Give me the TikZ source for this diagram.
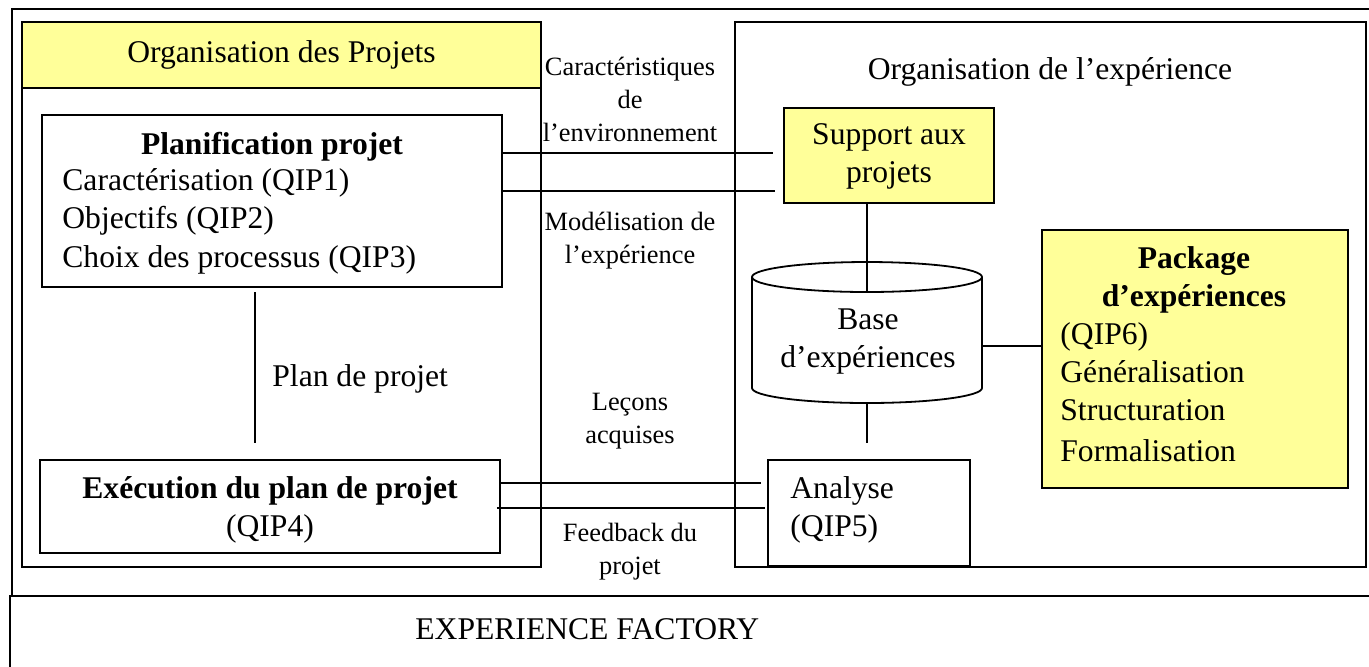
\documentclass[tikz,border=0pt]{standalone}
\usepackage{fontspec}
\setmainfont{Liberation Serif}
\usetikzlibrary{fit}
\definecolor{jaune}{RGB}{255,255,153}
\tikzset{
  trait/.style={line width=0.9pt},
  cadre/.style={draw, line width=0.9pt, inner sep=0pt},
  cadrejaune/.style={cadre, fill=jaune},
  texte/.style={font=\fontsize{15.8}{19}\selectfont, inner sep=0pt},
  gras/.style={texte, font=\fontsize{15.8}{19}\selectfont\bfseries},
  petit/.style={font=\fontsize{13.2}{16.5}\selectfont, inner sep=0pt, align=center}
}
\begin{document}
\begin{tikzpicture}[x=0.5pt,y=0.5pt,yscale=-1,xscale=1]
\useasboundingbox (0,0) rectangle (1369,666);

%Shape: Rectangle [outer frames]
\node[cadre, fit={(12,9) (1371,596)}] (factory) {};
\node[cadre, fill=white, fit={(10,596) (1371,668)}] (bas) {};
% Text Node
\node[texte, anchor=west] (ef) at (415,629) {EXPERIENCE FACTORY};

%Shape: Rectangle [organisation des projets]
\node[cadre, fit={(22,22) (541,567)}] (orgproj) {};
\node[cadrejaune, fit={(22,22) (541,88)}] (entete) {};
% Text Node
\node[texte] (tentete) at (entete.center) {Organisation des Projets};

%Shape: Rectangle [planification]
\node[cadre, fit={(42,115) (502,287)}] (planif) {};
% Text Node
\node[gras] (tplanif) at (272,147) {Planification projet};
\node[texte, anchor=west] (qip1) at (62,183) {Caractérisation (QIP1)};
\node[texte, anchor=west] (qip2) at (62,221) {Objectifs (QIP2)};
\node[texte, anchor=west] (qip3) at (62,260) {Choix des processus (QIP3)};

%Shape: Rectangle [execution]
\node[cadre, fit={(40,460) (500,553)}] (exec) {};
% Text Node
\node[gras] (texec) at (270,491) {Exécution du plan de projet};
\node[texte] (qip4) at (270,529) {(QIP4)};

%Straight Lines [plan de projet]
\coordinate (p1) at (255,292);
\coordinate (p2) at (255,443);
\draw[trait] (p1) -- (p2);
% Text Node
\node[texte, anchor=west] (plan) at (272,379) {Plan de projet};

%Shape: Rectangle [organisation de l'experience]
\node[cadre, fit={(735,22) (1366,567)}] (orgexp) {};
% Text Node
\node[texte] (torgexp) at (1050,72) {Organisation de l’expérience};

%Shape: Rectangle [support]
\node[cadrejaune, fit={(784,108) (994,203)}] (support) {};
% Text Node
\node[texte, align=center] (tsupport) at (889,156) {Support aux\\projets};

%Shape: Can [base d'experiences]
\draw[trait, fill=white] (752,277) -- (752,388) arc[start angle=180, end angle=0, x radius=115, y radius=15] -- (982,277);
\draw[trait, fill=white] (867,277) ellipse[x radius=115, y radius=15];
\coordinate (bhaut) at (867,292);
\coordinate (bbas) at (867,403);
\coordinate (bdroite) at (982,346);
% Text Node
\node[texte, align=center] (base) at (868,342) {Base\\d’expériences};

%Shape: Rectangle [package]
\node[cadrejaune, fit={(1042,230) (1348,488)}] (package) {};
% Text Node
\node[gras, align=center] (tpackage) at (1194,280) {Package\\d’expériences};
\node[texte, anchor=west, align=left] (qip6) at (1060,392) {(QIP6)\\Généralisation\\Structuration\\[1.5pt]Formalisation};

%Shape: Rectangle [analyse]
\node[cadre, fit={(768,460) (970,566)}] (analyse) {};
% Text Node
\node[texte, anchor=west, align=left] (qip5) at (790,510) {Analyse\\(QIP5)};

%Straight Lines
\coordinate (s1) at (773,153);
\coordinate (s2) at (775,191);
\coordinate (a1) at (761,483);
\coordinate (a2) at (765,508);
\coordinate (a3) at (867,443);
\draw[trait] (planif.east |- s1) -- (s1);
\draw[trait] (planif.east |- s2) -- (s2);
\draw[trait] (exec.east |- a1) -- (a1);
\draw[trait] ([xshift=-2pt]exec.east |- a2) -- (a2);
\draw[trait] (support.south -| bhaut) -- (bhaut);
\draw[trait] (bbas) -- (a3);
\draw[trait] (bdroite) -- (package.west |- bdroite);

% Text Node
\node[petit] (caract) at (630,99) {Caractéristiques\\de\\l’environnement};
\node[petit] (model) at (630,241) {Modélisation de\\l’expérience};
\node[petit] (lecons) at (630,421) {Leçons\\acquises};
\node[petit] (feedback) at (630,552) {Feedback du\\projet};

\end{tikzpicture}
\end{document}
